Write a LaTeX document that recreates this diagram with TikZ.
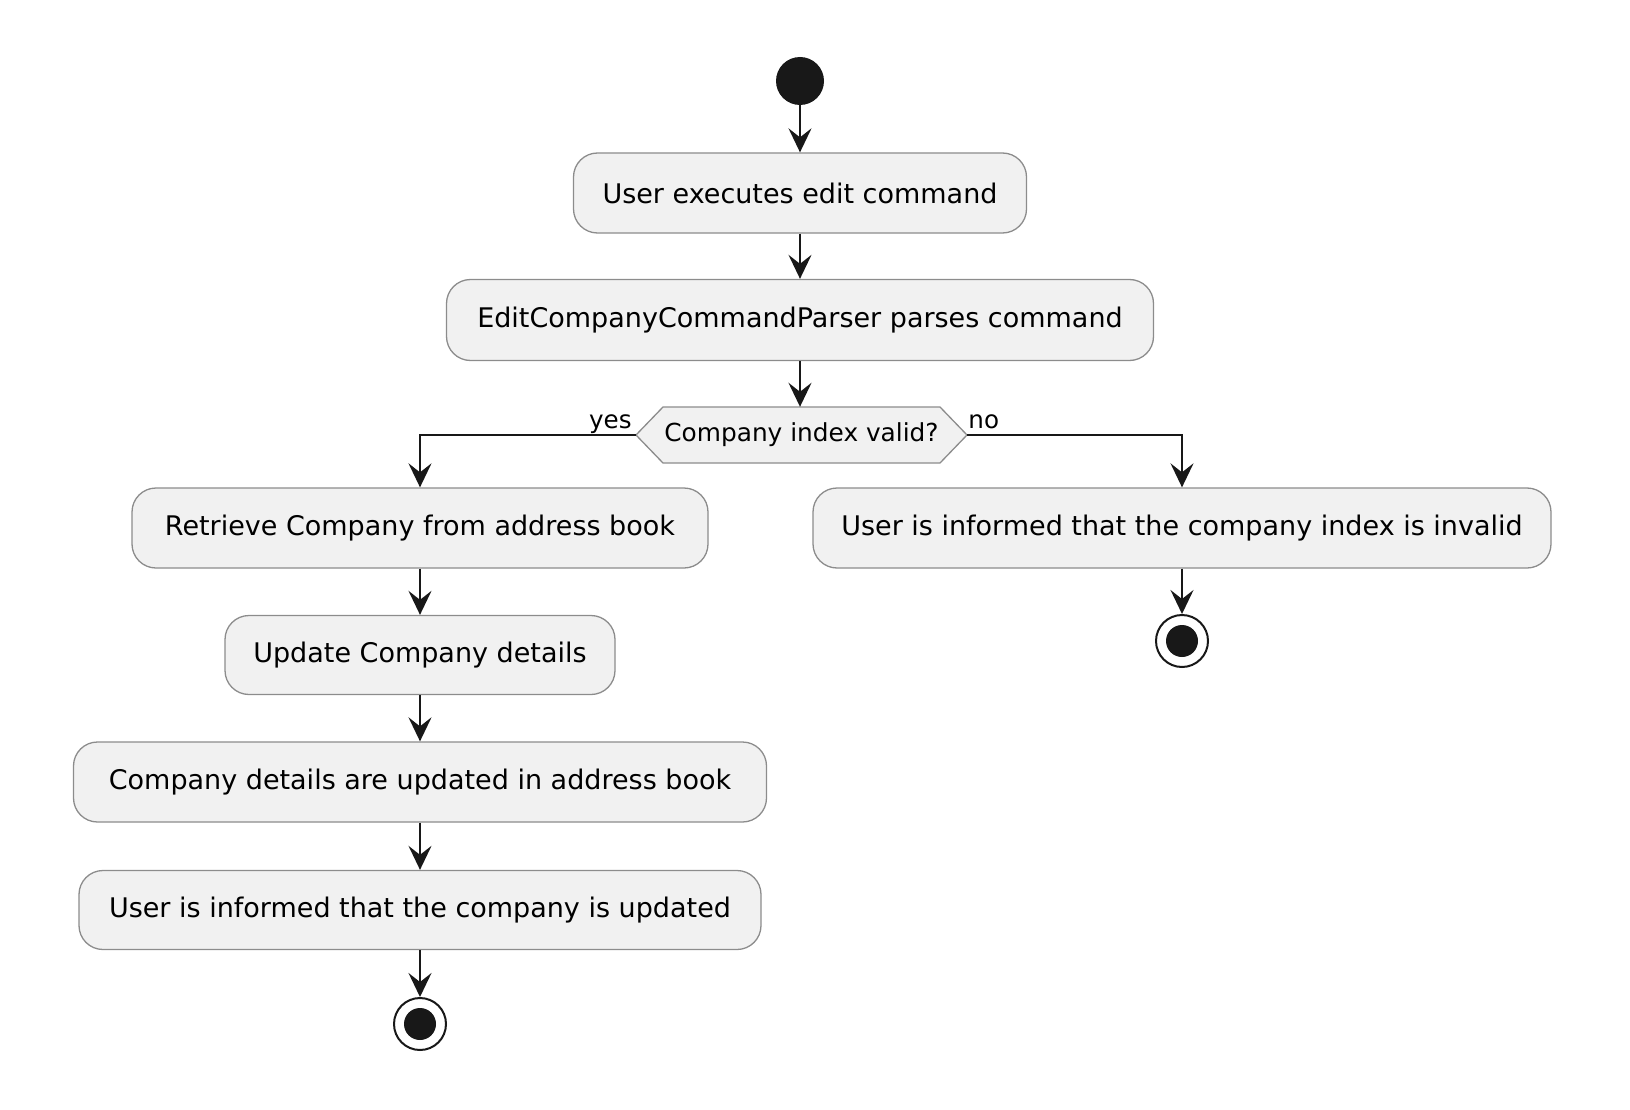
\documentclass[tikz,border=0pt]{standalone}
\usepackage{fontspec}
\setmainfont{DejaVu Sans}
\usetikzlibrary{arrows.meta}
\definecolor{lineC}{HTML}{181818}
\definecolor{boxF}{HTML}{F1F1F1}
\definecolor{boxB}{HTML}{8C8C8C}
\tikzset{
  act/.style={rectangle, rounded corners=24pt, fill=boxF, draw=boxB, line width=1.3pt,
    font=\fontsize{27}{31}\selectfont, inner sep=0pt},
  flow/.style={draw=lineC, line width=2pt, -{Stealth[length=24pt,width=23pt,inset=9pt,line width=2.2pt,fill=lineC]}},
  lbl/.style={font=\fontsize{24.6}{28}\selectfont, inner sep=0pt},
}
\begin{document}
\begin{tikzpicture}[x=1pt,y=-1pt]
\useasboundingbox (0,0) rectangle (1630,1110);

\node[circle, fill=lineC, minimum size=48pt, inner sep=0pt] (start) at (800,81) {};

\node[act, minimum width=453pt, minimum height=80pt] (b1) at (800,193) {User executes edit command};
\node[act, minimum width=707pt, minimum height=81pt] (b2) at (800,320) {EditCompanyCommandParser parses command};

% decision hexagon
\coordinate (dc) at (801.5,435);
\filldraw[fill=boxF, draw=boxB, line width=1.3pt]
  (636,435) -- (663,407) -- (940,407) -- (967,435) -- (940,463) -- (663,463) -- cycle;
\node[minimum width=331pt, minimum height=56pt, inner sep=0pt, font=\fontsize{24.8}{28}\selectfont] (dec) at (dc) {Company index valid?};

\node[act, minimum width=576pt, minimum height=80pt] (b3) at (420,528) {Retrieve Company from address book};
\node[act, minimum width=738pt, minimum height=80pt] (b7) at (1182,528) {User is informed that the company index is invalid};
\node[act, minimum width=390pt, minimum height=79pt] (b4) at (420,655) {Update Company details};
\node[act, minimum width=693pt, minimum height=80pt] (b5) at (420,782) {Company details are updated in address book};
\node[act, minimum width=682pt, minimum height=79pt] (b6) at (420,910) {User is informed that the company is updated};

% end nodes
\node[circle, draw=lineC, line width=2pt, fill=white, minimum size=52pt, inner sep=0pt] (endR) at (1182,641) {};
\fill[lineC] (endR.center) circle (16pt);
\node[circle, draw=lineC, line width=2pt, fill=white, minimum size=52pt, inner sep=0pt] (endL) at (420,1024) {};
\fill[lineC] (endL.center) circle (16pt);

% connectors
\draw[flow] (start) -- (b1);
\draw[flow] (b1) -- (b2);
\draw[flow] (b2.south) -- (b2.south |- dec.north);
\coordinate (yc) at (420,435);
\coordinate (nc) at (1182,435);
\draw[flow] (dec.west) -- (yc) -- (b3.north);
\draw[flow] (dec.east) -- (nc) -- (b7.north);
\draw[flow] (b3) -- (b4);
\draw[flow] (b4) -- (b5);
\draw[flow] (b5) -- (b6);
\draw[flow] (b6) -- (endL);
\draw[flow] (b7) -- (endR);

\node[lbl, anchor=base east] (yes) at ([xshift=-4pt,yshift=7pt]dec.west) {yes};
\node[lbl, anchor=base west] (no) at ([xshift=1pt,yshift=7pt]dec.east) {no};
\end{tikzpicture}
\end{document}
